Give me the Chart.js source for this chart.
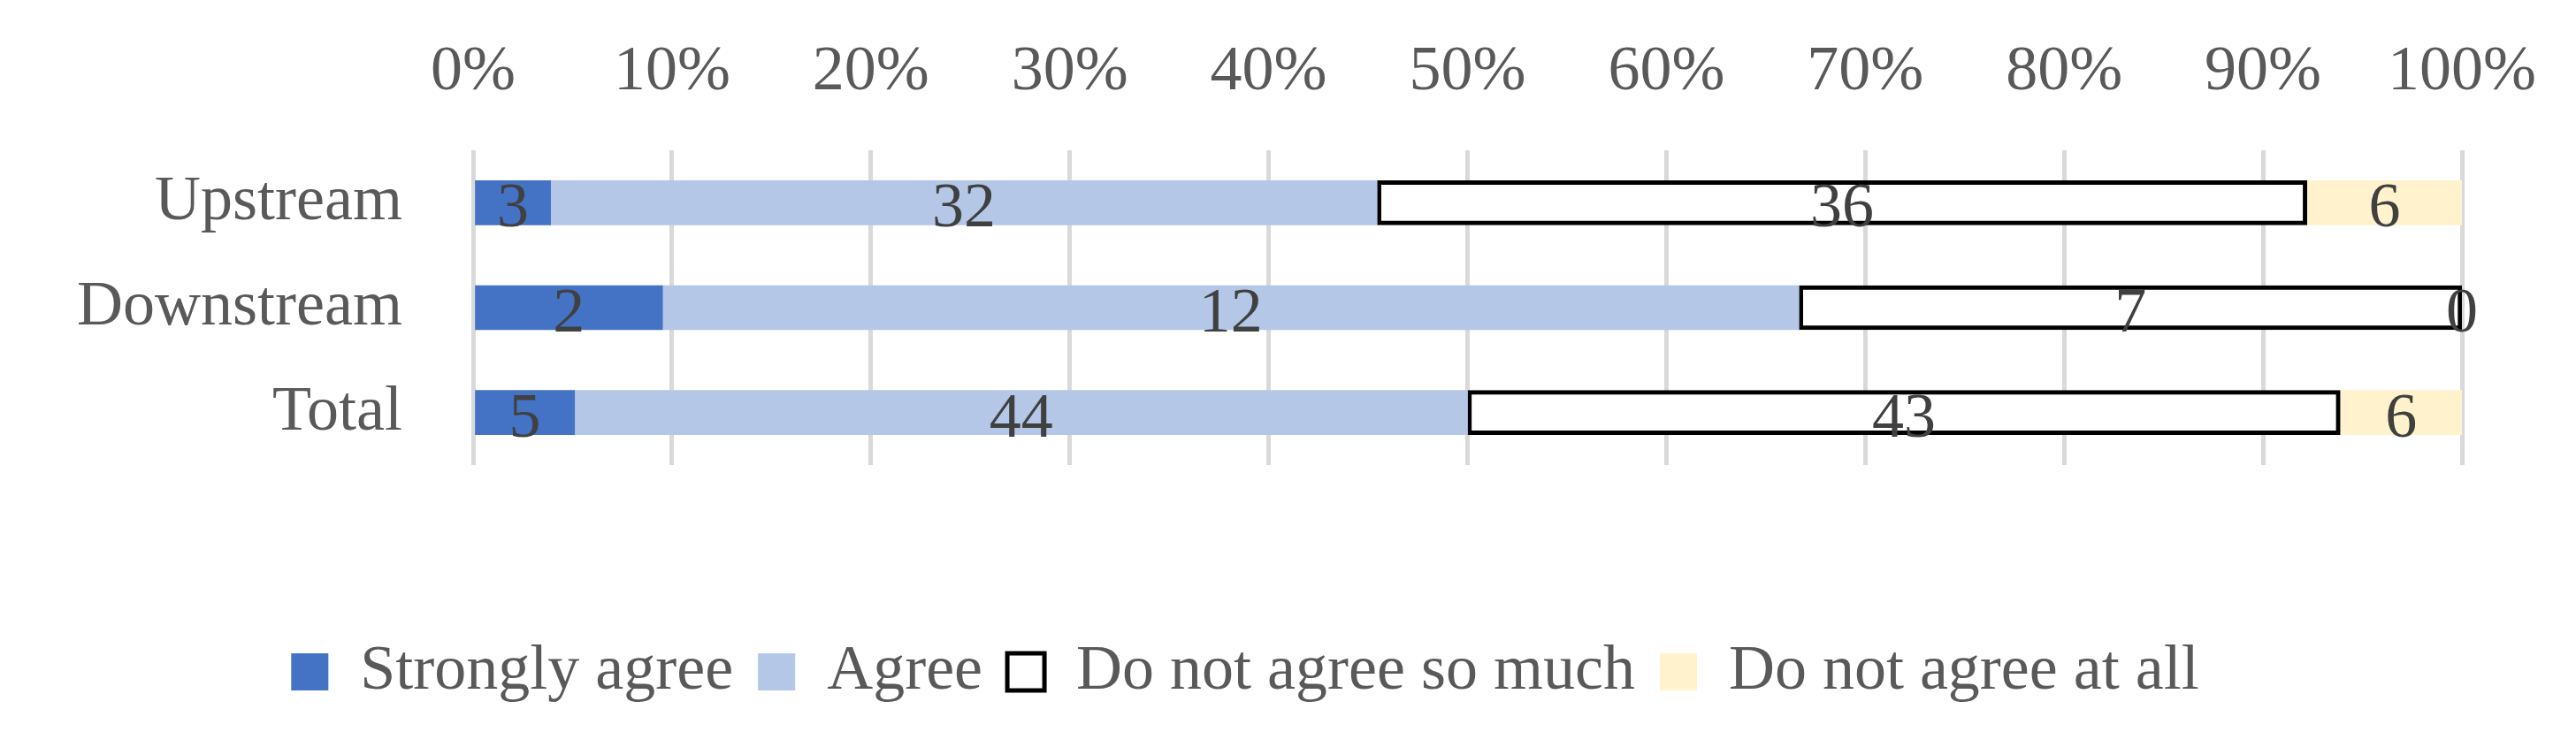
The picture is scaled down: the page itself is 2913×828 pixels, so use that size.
<!DOCTYPE html>
<html><head><meta charset="utf-8">
<script src="https://cdn.jsdelivr.net/npm/chart.js@4"></script>
<style>body{margin:0;background:#fff}canvas{display:block}</style>
</head><body>
<canvas id="c" width="2913" height="828"></canvas>
<script>
const categories = ["Upstream", "Downstream", "Total"];
const seriesNames = ["Strongly agree", "Agree", "Do not agree so much", "Do not agree at all"];
const stronglyAgree = [3, 2, 5];
const agree = [32, 12, 44];
const notSoMuch = [36, 7, 43];
const notAtAll = [6, 0, 6];
const tickLabels = ["0%","10%","20%","30%","40%","50%","60%","70%","80%","90%","100%"];

const counts = [stronglyAgree, agree, notSoMuch, notAtAll];
const totals = categories.map((_, i) => counts.reduce((s, a) => s + a[i], 0));
const pct = counts.map(a => a.map((v, i) => v / totals[i] * 100));
const fills = ["#4472C4", "#B4C7E7", "#FFFFFF", "#FFF2CC"];
const FONT = "'Liberation Serif', 'DejaVu Serif', serif";

const labelPlugin = {
  id: "labels",
  afterDatasetsDraw(chart) {
    const ctx = chart.ctx;
    ctx.save();
    ctx.font = "72px " + FONT;
    ctx.fillStyle = "#404040";
    ctx.textAlign = "center";
    ctx.textBaseline = "middle";
    chart.data.datasets.forEach((ds, di) => {
      chart.getDatasetMeta(di).data.forEach((el, i) => {
        const x = (el.x + el.base) / 2;
        ctx.fillText(String(counts[di][i]), x, el.y + 8);
      });
    });
    ctx.restore();
  }
};

new Chart(document.getElementById("c"), {
  type: "bar",
  data: {
    labels: categories,
    datasets: seriesNames.map((n, k) => ({
      label: n,
      data: pct[k],
      backgroundColor: fills[k],
      borderColor: k === 2 ? "#000000" : fills[k],
      borderWidth: k === 2 ? 5 : 0,
      borderSkipped: false,
      barThickness: 50
    }))
  },
  options: {
    indexAxis: "y",
    responsive: false,
    animation: false,
    layout: { padding: { left: 20, right: 117, top: 0, bottom: 22 } },
    scales: {
      x: {
        position: "top", stacked: true, min: 0, max: 100,
        afterFit(s) { s.height = 170; },
        grid: { color: "#D9D9D9", lineWidth: 5, drawTicks: false },
        border: { display: false },
        ticks: { stepSize: 10, padding: 45, color: "#595959", font: { size: 72, family: FONT },
          callback: (v, i) => tickLabels[i] }
      },
      x2: {
        position: "bottom", type: "linear", min: 0, max: 100,
        afterFit(s) { s.height = 170; },
        grid: { display: false }, border: { display: false }, ticks: { display: false }
      },
      y: {
        stacked: true,
        afterFit(s) { s.width = 515; },
        grid: { display: false }, border: { display: false },
        ticks: { padding: 72, color: "#595959", font: { size: 72, family: FONT } }
      }
    },
    plugins: {
      tooltip: { enabled: false },
      legend: {
        position: "bottom",
        labels: { boxWidth: 42, boxHeight: 42, padding: 28, color: "#595959",
          font: { size: 72, family: FONT } }
      }
    }
  },
  plugins: [labelPlugin]
});
</script>
</body></html>
